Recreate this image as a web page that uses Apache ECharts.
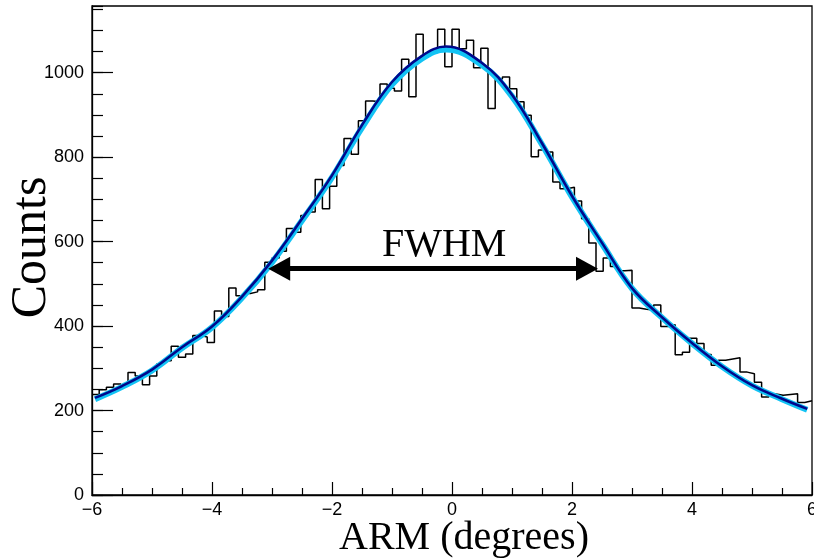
<!DOCTYPE html>
<html><head><meta charset="utf-8">
<script src="https://cdn.jsdelivr.net/npm/echarts@6/dist/echarts.min.js"></script>
<style>html,body{margin:0;padding:0;background:#fff}#c{width:814px;height:558px}</style>
</head><body><div id="c"></div>
<script>
// Histogram: 100 bins from -6 to 6 (bin width 0.12)
const histStart = -6;
const histEnd = 6;
const binCount = 100;
const counts = [
  238, 249, 255, 263, 258, 290, 282, 261, 282, 310,
  318, 352, 326, 334, 378, 374, 361, 436, 423, 490,
  472, 477, 481, 486, 551, 561, 577, 631, 622, 662,
  670, 747, 678, 731, 780, 844, 807, 886, 933, 931,
  973, 963, 957, 1032, 943, 1091, 1041, 1048, 1103, 1014,
  1103, 1057, 1077, 1012, 1058, 915, 985, 990, 962, 931,
  899, 801, 817, 812, 741, 725, 729, 696, 654, 597,
  530, 561, 541, 531, 532, 443, 440, 438, 450, 399,
  403, 332, 338, 371, 359, 333, 307, 319, 322, 325,
  291, 287, 267, 232, 239, 236, 238, 240, 219, 223
];
// Fit curves
const fitX     = [-5.95, -5.5, -5.0, -4.5, -4.0, -3.5, -3.0, -2.5, -2.0, -1.5, -1.0, -0.5, -0.1, 0.5, 1.0, 1.5, 2.0, 2.5, 3.0, 3.5, 4.0, 4.5, 5.0, 5.5, 5.92];
const fitDark  = [230, 258, 297, 350, 399, 470, 555, 654, 757, 876, 978, 1040, 1062, 1023, 948, 833, 708, 597, 490, 421, 360, 305, 260, 228, 204];
const fitLight = [227, 256, 295, 348, 397, 467, 551, 650, 752, 870, 972, 1034, 1055, 1018, 944, 830, 706, 595, 489, 420, 359, 304, 259, 227, 202];
const xTickLabels = [-6, -4, -2, 0, 2, 4, 6];
const yTickLabels = [0, 200, 400, 600, 800, 1000];

const binWidth = (histEnd - histStart) / binCount;
const histData = counts.map((v, i) => [histStart + i * binWidth, v]);
histData.push([histEnd, counts[counts.length - 1]]);

const yMax = 1158;
const minus = v => (v < 0 ? '\u2212' + Math.abs(v) : String(v));
const labelFont = { fontFamily: 'Liberation Sans, Arial, sans-serif', fontSize: 18, color: '#000' };
const gridBox = { left: 92, right: 2, top: 6, bottom: 63, containLabel: false, outerBoundsMode: 'none' };

const chart = echarts.init(document.getElementById('c'), null, { renderer: 'canvas' });
chart.setOption({
  animation: false,
  backgroundColor: '#fff',
  grid: [
    Object.assign({ show: true, borderColor: '#000', borderWidth: 1.3, backgroundColor: 'transparent' }, gridBox),
    Object.assign({ show: false }, gridBox)
  ],
  xAxis: [
    {
      gridIndex: 0, type: 'value', min: histStart, max: histEnd, interval: 2,
      axisLine: { show: true, onZero: false, lineStyle: { color: '#000', width: 1.3 } },
      axisTick: { show: true, inside: true, length: 13, lineStyle: { color: '#000', width: 1.2 } },
      minorTick: { show: true, splitNumber: 4, length: 7, lineStyle: { color: '#000', width: 1.2 } },
      splitLine: { show: false },
      axisLabel: Object.assign({ margin: 6, formatter: v => (xTickLabels.includes(v) ? minus(v) : '') }, labelFont),
      name: 'ARM (degrees)', nameLocation: 'middle', nameGap: 23, nameMoveOverlap: false,
      nameTextStyle: { fontFamily: 'Liberation Serif, DejaVu Serif, serif', fontSize: 40, color: '#000', padding: [0, 0, 0, 24] }
    },
    { gridIndex: 1, type: 'value', min: histStart, max: histEnd, show: false, axisLine: { onZero: false } }
  ],
  yAxis: [
    {
      gridIndex: 0, type: 'value', min: 0, max: yMax, interval: 200, position: 'left',
      axisLine: { show: true, onZero: false, lineStyle: { color: '#000', width: 1.3 } },
      axisTick: { show: true, inside: true, length: 21, lineStyle: { color: '#000', width: 1.2 } },
      splitLine: { show: false },
      axisLabel: Object.assign({ margin: 8, showMaxLabel: false, formatter: v => (yTickLabels.includes(v) ? String(v) : '') }, labelFont),
      name: 'Counts', nameLocation: 'middle', nameGap: 35, nameRotate: 90, nameMoveOverlap: false,
      nameTextStyle: { fontFamily: 'Liberation Serif, DejaVu Serif, serif', fontSize: 50, color: '#000', padding: [0, 0, 0, 6] }
    },
    {
      gridIndex: 1, type: 'value', min: 0, max: yMax, interval: 50, position: 'left',
      axisLine: { show: false, onZero: false },
      axisTick: { show: true, inside: true, length: 11, lineStyle: { color: '#000', width: 1.2 } },
      splitLine: { show: false },
      axisLabel: { show: false }
    }
  ],
  series: [
    {
      name: 'hist', type: 'line', xAxisIndex: 0, yAxisIndex: 0, step: 'end',
      data: histData, showSymbol: false, symbol: 'none',
      lineStyle: { color: '#000', width: 1.5 }, z: 2
    },
    {
      name: 'fitLight', type: 'line', xAxisIndex: 0, yAxisIndex: 0, smooth: 0.4,
      data: fitX.map((x, i) => [x, fitLight[i]]), showSymbol: false, symbol: 'none',
      lineStyle: { color: '#12c3f4', width: 6 }, z: 3
    },
    {
      name: 'fitDark', type: 'line', xAxisIndex: 0, yAxisIndex: 0, smooth: 0.4,
      data: fitX.map((x, i) => [x, fitDark[i]]), showSymbol: false, symbol: 'none',
      lineStyle: { color: '#00088c', width: 2.6 }, z: 4
    },
    {
      name: 'annot', type: 'line', xAxisIndex: 0, yAxisIndex: 0, data: [], z: 5,
      markLine: {
        silent: true, animation: false,
        symbol: ['triangle', 'triangle'], symbolSize: [24, 22],
        lineStyle: { color: '#000', width: 5, type: 'solid' },
        label: { show: false },
        data: [[{ coord: [-2.88, 536] }, { coord: [2.25, 536] }]]
      },
      markPoint: {
        silent: true, animation: false,
        symbol: 'circle', symbolSize: 1, itemStyle: { color: 'transparent' },
        label: { show: true, position: 'inside', formatter: 'FWHM', color: '#000',
                 fontFamily: 'Liberation Serif, DejaVu Serif, serif', fontSize: 40 },
        data: [{ coord: [-0.13, 590] }]
      }
    }
  ]
});
</script>
</body></html>
